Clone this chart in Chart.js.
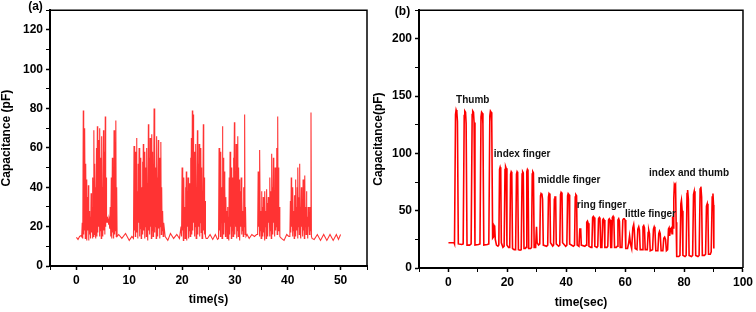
<!DOCTYPE html>
<html>
<head>
<meta charset="utf-8">
<script src="https://cdn.jsdelivr.net/npm/chart.js@4.4.0/dist/chart.umd.min.js"></script>
<style>
  body { margin: 0; background: #fff; }
  #wrap { position: relative; width: 756px; height: 312px; overflow: hidden; }
  canvas { position: absolute; top: 0; }
</style>
</head>
<body>
<div id="wrap">
  <canvas id="chartA" width="378" height="312" style="left:0px"></canvas>
  <canvas id="chartB" width="390" height="312" style="left:366px"></canvas>
</div>
<script>
// (a) capacitance vs time(s)
const timeA = [
  0, 0.3, 0.6, 0.9,
  1.00,1.10,1.20,1.30,1.38,1.45,1.52,1.60,1.68,1.76,1.84,1.92,2.00,
  2.10,2.18,2.26,2.34,2.42,2.50,2.60,2.68,2.78,2.86,2.95,3.04,
  3.12,3.20,3.30,3.38,3.46,3.54,3.62,3.70,3.80,3.88,3.96,4.04,
  4.12,4.20,4.28,4.36,4.45,4.53,4.62,4.70,4.78,4.86,4.95,5.03,
  5.12,5.20,5.30,5.38,5.46,5.54,5.62,5.70,5.80,5.90,6.00,
  6.10,6.20,6.30,6.40,6.50,6.60,6.70,6.80,6.88,6.96,7.04,
  7.12,7.20,7.28,7.36,7.46,7.54,7.62,7.70,
  8.0, 8.6, 9.3, 10.0, 10.5,
  10.80,10.90,10.98,11.06,11.14,11.22,11.30,11.38,11.46,11.54,11.62,11.70,
  11.78,11.86,11.94,12.02,12.10,12.18,12.26,12.34,12.42,12.50,12.58,12.66,
  12.74,12.82,12.90,12.98,13.06,13.14,13.22,13.30,13.38,13.46,13.54,13.62,
  13.70,13.78,13.86,13.94,14.02,14.10,14.18,14.26,14.34,14.42,14.50,14.60,
  14.70,14.78,14.86,14.94,15.02,15.10,15.18,15.26,15.34,15.42,15.50,15.58,
  15.66,15.74,15.82,15.90,15.98,16.06,16.14,16.22,16.32,16.42,16.52,
  16.8, 17.3, 17.8, 18.4, 19.0, 19.5,
  19.80,19.90,20.00,20.08,20.16,20.24,20.32,20.40,20.48,20.56,20.64,20.72,
  20.80,20.88,20.96,21.04,21.12,21.20,21.28,21.36,21.44,21.52,21.60,21.68,
  21.76,21.84,21.94,22.02,22.10,22.18,22.26,22.34,22.42,22.50,22.58,22.66,
  22.74,22.82,22.90,22.98,23.06,23.14,23.22,23.30,23.38,23.46,23.54,23.62,
  23.70,23.78,23.86,23.94,24.02,24.10,24.18,24.26,24.34,24.42,24.55,
  24.8, 25.3, 25.8, 26.3, 26.7,
  26.90,27.00,27.08,27.16,27.24,27.32,27.40,27.48,27.56,27.64,27.72,27.80,
  27.88,27.96,28.04,28.12,28.20,28.28,28.36,28.44,28.52,28.60,28.68,28.76,
  28.84,28.92,29.00,29.08,29.16,29.24,29.32,29.40,29.48,29.56,29.64,29.72,
  29.80,29.90,29.98,30.06,30.14,30.22,30.30,30.38,30.46,30.54,30.62,30.70,
  30.78,30.86,30.94,31.02,31.10,31.18,31.26,31.34,31.42,31.50,31.58,31.66,
  31.74,31.84,31.92,32.00,32.10,
  32.3, 32.7, 33.2, 33.7, 34.1,
  34.30,34.40,34.48,34.56,34.64,34.72,34.80,34.88,34.96,35.04,35.12,35.20,
  35.28,35.36,35.44,35.52,35.60,35.68,35.76,35.84,35.92,36.00,36.08,36.16,
  36.24,36.32,36.40,36.48,36.56,36.64,36.72,36.80,36.88,36.96,37.04,37.12,
  37.20,37.28,37.36,37.44,37.52,37.60,37.68,37.76,37.84,37.92,38.00,38.10,
  38.18,38.26,38.34,38.42,38.50,
  38.8, 39.3, 39.8, 40.2,
  40.40,40.50,40.58,40.66,40.74,40.82,40.90,40.98,41.06,41.14,41.22,41.30,
  41.38,41.46,41.54,41.62,41.70,41.78,41.86,41.94,42.02,42.10,42.18,42.26,
  42.34,42.42,42.50,42.58,42.66,42.74,42.82,42.90,42.98,43.06,43.14,43.22,
  43.30,43.38,43.46,43.54,43.62,43.70,43.78,43.86,43.94,44.02,44.10,44.20,
  44.30,44.40,44.48,44.60,
  45.0, 45.6, 46.2, 46.8, 47.4, 48.0, 48.6, 49.2, 49.6, 50.0
];
const capA = [
  14.5, 13.5, 15, 15.5,
  15,22,14,79,16,62,18,70,14,52,20,44,13,
  35,18,41,13,28,16,25,14,37,17,30,14,
  45,15,69,16,52,18,40,14,60,15,71,17,
  64,20,48,15,70,18,55,14,66,20,40,15,
  69,18,58,16,76,20,45,22,25,22,24,
  21,23,19,30,15,45,14,55,17,48,14,
  69,16,66,18,74,15,40,15,
  16, 14, 16.5, 13, 15,
  14,61,18,44,15,58,20,65,17,38,14,52,
  22,60,15,48,19,55,14,40,21,53,16,62,
  18,45,14,58,20,50,15,60,22,42,13,72,
  18,55,16,65,20,48,14,67,18,58,15,30,
  80,17,62,20,50,14,66,22,45,15,64,19,
  55,14,48,20,63,16,40,18,28,15,22,
  15, 13, 16.5, 14, 16, 14,
  20,15,50,18,35,13,45,20,30,14,40,17,
  48,13,38,20,45,14,35,18,42,15,55,20,
  65,16,79,18,77,22,58,15,48,20,62,14,
  40,18,69,16,52,20,62,15,45,22,60,17,
  50,14,38,20,72,18,45,16,33,15,14,
  14, 16, 13.5, 16, 13.5,
  14,60,18,45,15,58,22,40,14,71,20,55,
  16,48,22,40,15,35,20,28,14,30,18,25,
  13,45,16,58,20,40,14,50,18,45,15,55,
  22,73,16,48,20,62,14,45,18,66,15,50,
  22,44,13,38,20,45,16,35,18,28,15,40,
  20,77,16,30,15,
  16, 14, 16, 15, 16,
  16,48,20,30,15,59,18,28,14,38,20,30,
  15,35,17,25,13,38,20,28,14,39,18,32,
  15,35,22,30,15,45,18,38,14,57,20,40,
  16,55,22,35,15,50,18,45,20,60,16,76,
  18,50,20,30,15,
  14, 13, 16, 15,
  15,33,17,45,20,30,15,40,18,28,14,36,
  20,44,15,30,18,40,14,50,20,35,16,52,
  18,30,14,40,20,28,15,44,18,35,14,46,
  20,30,16,38,18,25,14,30,20,28,16,30,
  18,78,15,14,
  13.5, 16, 13, 16, 13, 16, 13, 16, 13.5, 16
];

// (b) capacitance vs time(sec), one finger after another
const timeB = [
  0,1.0,1.9,2.05,2.4,2.6,2.85,3.05,3.35,
  4.5,5.0,5.35,5.55,5.8,6.0,6.3,
  7.2,7.7,8.05,8.25,8.5,8.7,9.0,
  10.2,10.7,11.05,11.25,11.5,11.7,12.0,
  13.2,13.7,14.05,14.25,14.5,14.7,15.0,15.3,15.5,15.7,15.9,16.3,
  16.8,17.1,17.35,17.55,17.75,17.95,
  18.5,18.9,19.2,19.4,19.6,19.85,
  20.4,20.8,21.1,21.3,21.5,21.75,
  22.3,22.8,23.1,23.3,23.5,23.75,
  24.3,24.7,25.0,25.2,25.4,25.65,
  26.1,26.35,26.6,26.8,27.0,27.25,
  27.9,28.2,28.45,28.65,28.85,29.1,
  29.6,29.9,30.1,30.6,
  31.0,31.25,31.45,31.75,31.95,32.2,
  33.3,33.7,33.95,34.15,34.45,34.65,
  35.4,35.7,35.95,36.15,36.4,36.6,
  37.4,37.8,38.05,38.25,38.55,38.75,
  39.8,40.2,40.45,40.65,40.95,41.15,
  42.4,42.8,43.05,43.25,43.5,43.7,
  44.3,44.6,44.9,45.1,
  46.3,46.7,46.95,47.2,47.45,47.7,
  48.4,48.7,48.95,49.2,49.45,49.7,
  50.4,50.7,50.95,51.2,51.45,51.7,
  52.1,52.35,52.6,52.85,53.1,
  53.8,54.1,54.35,54.6,54.85,55.1,
  55.4,55.65,55.9,56.15,56.4,
  57.0,57.3,57.55,57.8,58.05,58.3,
  58.9,59.2,59.45,59.7,59.95,60.2,
  60.8,61.2,61.5,61.8,62.2,
  62.6,62.9,63.1,63.4,
  64.0,64.3,64.6,64.85,65.1,
  65.8,66.05,66.3,66.55,66.8,
  67.5,67.8,68.0,68.25,68.5,
  69.3,69.6,69.85,70.1,70.4,
  71.1,71.4,71.65,71.9,72.2,
  72.8,73.1,73.4,73.7,74.0,
  74.4,74.7,74.9,75.1,75.4,75.7,75.9,76.1,76.3,76.5,
  76.7,76.9,77.1,77.3,77.5,
  78.2,78.6,78.9,79.1,79.35,79.6,
  80.3,80.7,81.0,81.2,81.45,81.7,
  82.5,82.9,83.2,83.45,83.7,83.95,
  84.7,85.1,85.45,85.7,85.95,86.2,
  86.9,87.3,87.6,87.85,88.1,88.3,
  88.9,89.2,89.55,89.8,90.0,90.1
];
const capB = [
  22,22,22,21,134,138,136,128,21,
  20.5,21,133,137,136,126,20,
  20,21,134,137,136,127,20,
  20.5,21,132,136,135,126,20,
  20.5,21,133,137,136,128,26,27,37,36,25,20,
  19,20,86,88,86,22,
  18,19,86,88.5,87,20,
  18,18,82,84,83,17,
  16,16,82,84,83,16,
  15.5,16,82,84,83,17,
  17,18,84,86,85,17,
  17,18,82,84,83,18,
  18,36,22,20,
  21,63,65,64,60,20,
  19,20,62,65,64,22,
  19,20,60,62,62,21,
  19,20,64,66,65,22,
  19,20,63,65,64,21,
  19,20,62,64,63,20,
  19,34,34,20,
  19,20,40,41,39,19,
  18,19,44,45,44,19,
  18,19,43,44,42,18,
  18,42,43,42,18,
  18,19,42,43,42,18,
  18,44,45,43,18,
  18,19,42,43,41,18,
  18,42,43,43,42,17,
  17,22,28,21,17,
  35,38,33,17,
  16,34,36,33,16,
  16,36,37,35,16,
  16,31,33,30,15,
  16,34,36,34,15,
  15,30,32,30,15,
  15,26,27,25,15,
  16,34,35,28,34,35,30,45,35,60,
  73,72,73,40,10,
  10,11,56,59,50,11,
  10,11,65,68,60,11,
  10,11,64,67,60,11,
  10,11,69,71,62,11,
  11,12,54,56,48,12,
  12,14,62,65,55,17
];

// annotations of panel (b), anchored in data units (left edge, middle)
const noteText = ['Thumb', 'index finger', 'middle finger', 'ring finger', 'little finger', 'index and thumb'];
const noteX = [2.6, 15.4, 30.3, 43.6, 59.9, 68.1];
const noteY = [146, 99, 76.5, 55, 47, 82.6];

const FONT = '"Liberation Sans", Arial, Helvetica, sans-serif';

function toPoints(xs, ys) {
  return xs.map((x, i) => ({ x: x, y: ys[i] }));
}

function axis(min, max, step, major, size, isY) {
  return {
    type: 'linear',
    min: min,
    max: max,
    afterFit(scale) {
      if (isY) scale.width = size; else scale.height = size;
    },
    ticks: {
      stepSize: step,
      autoSkip: false,
      maxRotation: 0,
      padding: 3,
      color: '#000',
      font: { family: FONT, size: 12, weight: 'bold' },
      callback: v => (v >= 0 && v % major === 0) ? String(v) : ''
    },
    grid: {
      drawOnChartArea: false,
      drawTicks: true,
      tickLength: 4,
      color: '#000',
      tickWidth: c => (c.tick && c.tick.value % major === 0) ? 1.5 : 1
    },
    border: { display: true, color: '#000', width: 2 }
  };
}

// frame (top + right), axis titles, panel letter
function framePlugin(o) {
  return {
    id: 'frame',
    afterDraw(chart) {
      const ctx = chart.ctx, a = chart.chartArea;
      ctx.save();
      ctx.strokeStyle = '#000';
      ctx.lineWidth = 1.5;
      ctx.beginPath();
      ctx.moveTo(a.left, a.top);
      ctx.lineTo(a.right, a.top);
      ctx.lineTo(a.right, a.bottom);
      ctx.stroke();

      ctx.fillStyle = '#000';
      ctx.font = 'bold 12px ' + FONT;
      ctx.textAlign = 'center';
      ctx.textBaseline = 'middle';
      ctx.fillText(o.xTitle, (a.left + a.right) / 2, o.xTitleY);
      ctx.fillText(o.panel, o.panelX, o.panelY);

      ctx.translate(o.yTitleX, (a.top + a.bottom) / 2);
      ctx.rotate(-Math.PI / 2);
      ctx.fillText(o.yTitle, 0, 0);
      ctx.restore();
    }
  };
}

const notesPlugin = {
  id: 'notes',
  afterDatasetsDraw(chart) {
    const ctx = chart.ctx, sx = chart.scales.x, sy = chart.scales.y;
    ctx.save();
    ctx.fillStyle = '#111';
    ctx.font = 'bold 10px ' + FONT;
    ctx.textAlign = 'left';
    ctx.textBaseline = 'middle';
    noteText.forEach((t, i) => {
      ctx.fillText(t, sx.getPixelForValue(noteX[i]), sy.getPixelForValue(noteY[i]));
    });
    ctx.restore();
  }
};

const common = {
  responsive: false,
  animation: false,
  devicePixelRatio: 1,
  plugins: { legend: { display: false }, tooltip: { enabled: false } },
  elements: { point: { radius: 0 }, line: { tension: 0 } }
};

// chart (a)
new Chart(document.getElementById('chartA').getContext('2d'), {
  type: 'line',
  data: {
    datasets: [{
      data: toPoints(timeA, capA),
      borderColor: 'rgba(255,0,0,0.8)',
      borderWidth: 1.1
    }]
  },
  options: Object.assign({}, common, {
    layout: { padding: { top: 10, right: 11, left: 0, bottom: 0 } },
    scales: {
      x: axis(-5, 55, 5, 10, 46, false),
      y: axis(0, 130, 10, 20, 50, true)
    }
  }),
  plugins: [framePlugin({
    xTitle: 'time(s)', xTitleY: 300,
    yTitle: 'Capacitance (pF)', yTitleX: 7,
    panel: '(a)', panelX: 35.5, panelY: 7
  })]
});

// chart (b)
new Chart(document.getElementById('chartB').getContext('2d'), {
  type: 'line',
  data: {
    datasets: [{
      data: toPoints(timeB, capB),
      borderColor: '#ff0000',
      borderWidth: 1.6
    }]
  },
  options: Object.assign({}, common, {
    layout: { padding: { top: 8, right: 12, left: 0, bottom: 0 } },
    scales: {
      x: axis(-10, 100, 10, 20, 44, false),
      y: axis(0, 225, 25, 50, 53, true)
    }
  }),
  plugins: [notesPlugin, framePlugin({
    xTitle: 'time(sec)', xTitleY: 303,
    yTitle: 'Capacitance(pF)', yTitleX: 13,
    panel: '(b)', panelX: 36.5, panelY: 12
  })]
});
</script>
</body>
</html>
